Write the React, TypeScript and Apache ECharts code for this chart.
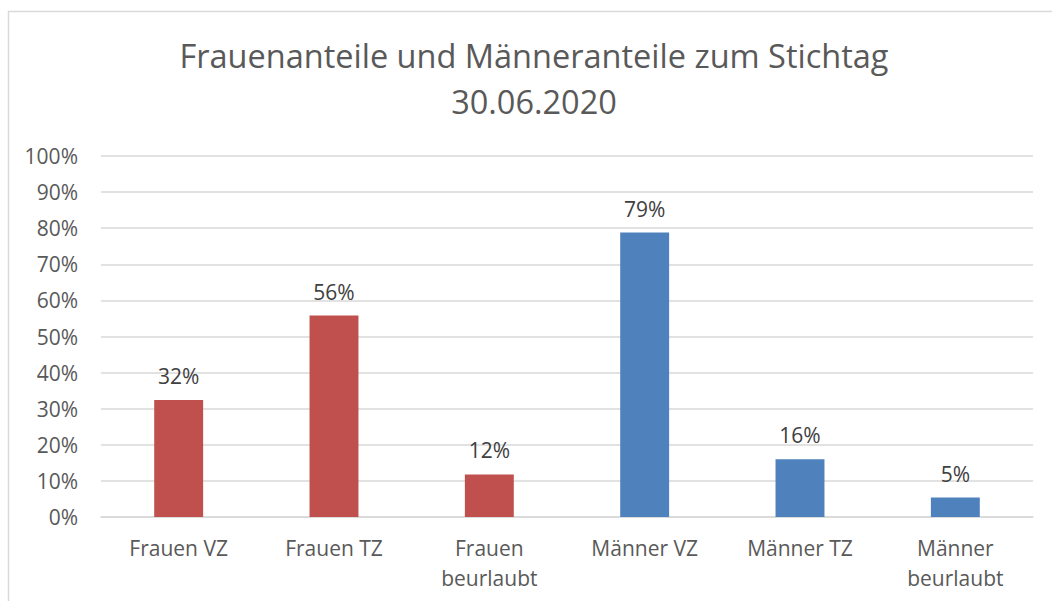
import React, { useEffect, useRef } from "react";
import * as echarts from "echarts";

const categories = ["Frauen VZ", "Frauen TZ", "Frauen\nbeurlaubt", "Männer VZ", "Männer TZ", "Männer\nbeurlaubt"];
const values = [32.4, 55.8, 11.8, 78.8, 16.0, 5.4];
const groups = ["f", "f", "f", "m", "m", "m"];
const yTicks = { min: 0, max: 100, interval: 10 };
const titleLines = ["Frauenanteile und Männeranteile zum Stichtag", "30.06.2020"];

const FONT = "'Open Sans', 'Noto Sans', sans-serif";
const groupColors: Record<string, string> = { f: "#C0504D", m: "#4F81BD" };

export default function App() {
  const ref = useRef<HTMLDivElement>(null);
  useEffect(() => {
    if (!ref.current) return;
    const chart = echarts.init(ref.current, undefined, { renderer: "svg" });
    chart.setOption({
      animation: false,
      backgroundColor: "#ffffff",
      graphic: [
        {
          type: "rect",
          shape: { x: 8.5, y: 11.5, width: 1200, height: 800 },
          style: { fill: "none", stroke: "#d9d9d9", lineWidth: 1.5 },
          silent: true,
        },
        {
          type: "text",
          x: 534,
          y: 55,
          style: { text: titleLines[0], font: `32.5px ${FONT}`, fill: "#595959", align: "center", verticalAlign: "middle" },
        },
        {
          type: "text",
          x: 534,
          y: 101,
          style: { text: titleLines[1], font: `32.5px ${FONT}`, fill: "#595959", align: "center", verticalAlign: "middle" },
        },
      ],
      grid: { left: 101, right: 19, top: 156, bottom: 84, containLabel: false },
      xAxis: {
        type: "category",
        data: categories,
        axisLine: { show: true, lineStyle: { color: "#d9d9d9", width: 1.5 } },
        axisTick: { show: false },
        axisLabel: { interval: 0, margin: 16, lineHeight: 30, fontSize: 21, color: "#595959", fontFamily: FONT },
      },
      yAxis: {
        type: "value",
        min: yTicks.min,
        max: yTicks.max,
        interval: yTicks.interval,
        axisLine: { show: false },
        axisTick: { show: false },
        splitLine: { lineStyle: { color: "#d9d9d9", width: 1.5 } },
        axisLabel: { formatter: "{value}%", margin: 23, fontSize: 21, color: "#595959", fontFamily: FONT },
      },
      series: [
        {
          type: "bar",
          barWidth: "31.5%",
          data: values.map((v, i) => ({ value: v, itemStyle: { color: groupColors[groups[i]] } })),
          label: {
            show: true,
            position: "top",
            distance: 12,
            fontSize: 21,
            lineHeight: 24,
            color: "#404040",
            fontFamily: FONT,
            formatter: (p: any) => Math.round(p.value) + "%",
          },
        },
      ],
    });
    return () => chart.dispose();
  }, []);
  return <div ref={ref} style={{ position: "absolute", left: 0, top: 0, width: 1052, height: 601 }} />;
}
